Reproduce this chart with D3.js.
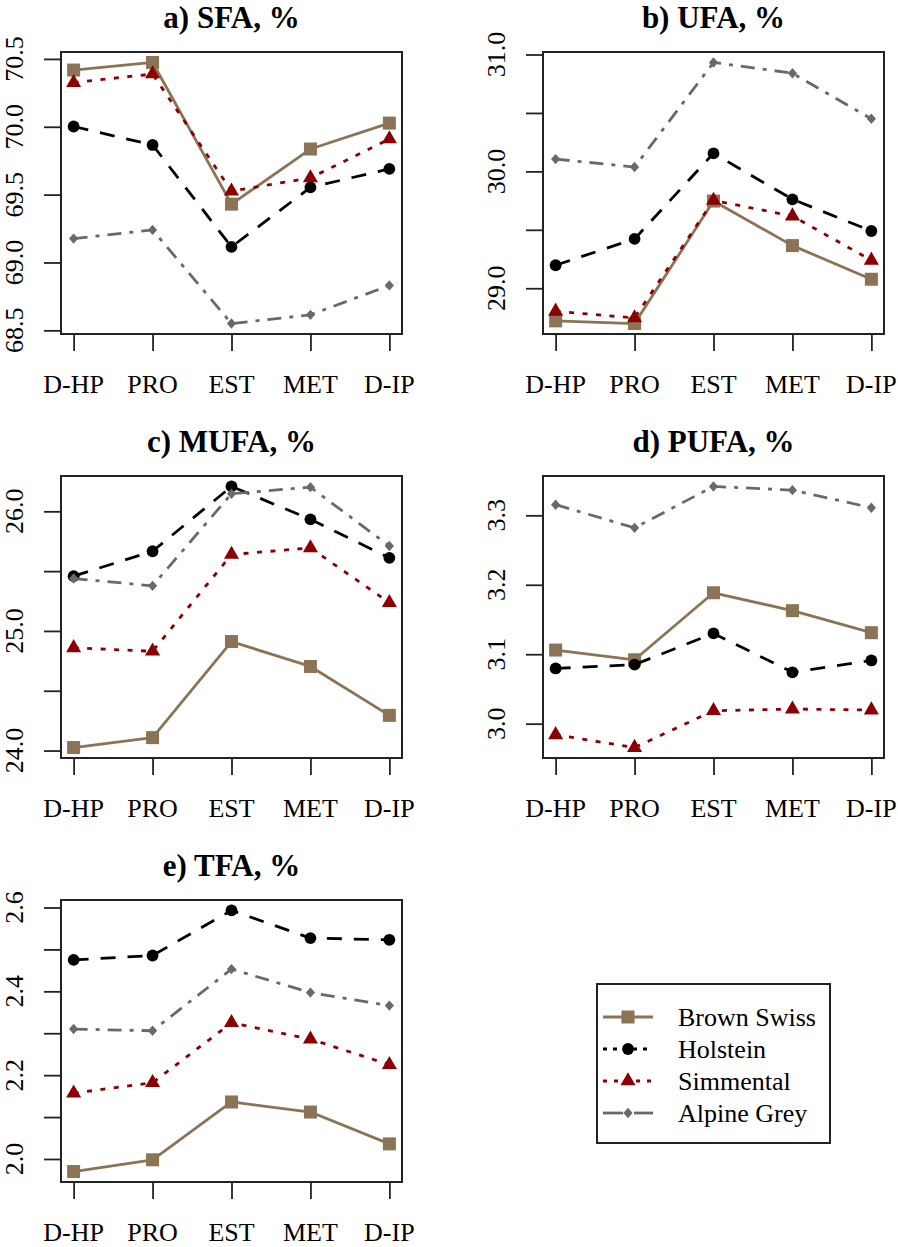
<!DOCTYPE html>
<html>
<head>
<meta charset="utf-8">
<script src="https://cdn.jsdelivr.net/npm/d3@7/dist/d3.min.js"></script>
<style>
  html, body { margin: 0; padding: 0; background: #fff; }
  svg { display: block; }
</style>
</head>
<body>
<svg id="chart" width="898" height="1247"></svg>
<script>
// ---------------- data ----------------
const categories = ["D-HP", "PRO", "EST", "MET", "D-IP"];
const breeds = ["Brown Swiss", "Holstein", "Simmental", "Alpine Grey"];

// rows: Brown Swiss, Holstein, Simmental, Alpine Grey
const SFA = [
  [70.418, 70.474, 69.430, 69.836, 70.027],
  [70.002, 69.866, 69.115, 69.553, 69.690],
  [70.325, 70.389, 69.526, 69.623, 69.910],
  [69.176, 69.240, 68.550, 68.614, 68.831]
];
const UFA = [
  [28.721, 28.698, 29.746, 29.365, 29.077],
  [29.197, 29.422, 30.154, 29.761, 29.490],
  [28.803, 28.746, 29.752, 29.618, 29.239],
  [30.105, 30.037, 30.932, 30.840, 30.450]
];
const MUFA = [
  [24.025, 24.108, 24.911, 24.703, 24.294],
  [25.458, 25.666, 26.208, 25.933, 25.611],
  [24.859, 24.830, 25.639, 25.694, 25.236],
  [25.438, 25.377, 26.147, 26.202, 25.710]
];
const PUFA = [
  [3.106, 3.092, 3.1885, 3.1627, 3.131],
  [3.0795, 3.085, 3.130, 3.074, 3.091],
  [2.984, 2.9656, 3.0186, 3.021, 3.0196],
  [3.3153, 3.282, 3.3416, 3.3363, 3.311]
];
const TFA = [
  [1.970, 1.998, 2.136, 2.112, 2.036],
  [2.475, 2.4855, 2.593, 2.527, 2.523],
  [2.157, 2.182, 2.325, 2.286, 2.225],
  [2.310, 2.306, 2.453, 2.397, 2.366]
];

const titles = ["a) SFA, %", "b) UFA, %", "c) MUFA, %", "d) PUFA, %", "e) TFA, %"];

const ticksSFA = [68.5, 69.0, 69.5, 70.0, 70.5];
const labelsSFA = [68.5, 69.0, 69.5, 70.0, 70.5];
const ticksUFA = [29.0, 29.5, 30.0, 30.5, 31.0];
const labelsUFA = [29.0, 30.0, 31.0];
const ticksMUFA = [24.0, 24.5, 25.0, 25.5, 26.0];
const labelsMUFA = [24.0, 25.0, 26.0];
const ticksPUFA = [3.0, 3.1, 3.2, 3.3];
const labelsPUFA = [3.0, 3.1, 3.2, 3.3];
const ticksTFA = [2.0, 2.1, 2.2, 2.3, 2.4, 2.5, 2.6];
const labelsTFA = [2.0, 2.2, 2.4, 2.6];

// ---------------- styles ----------------
const FONT = "Liberation Serif";
const colors = ["#8B7355", "#000000", "#8B0000", "#696969"];
const dashes = [null, "15,12", "5,8.5", "14,8,4,8"];
const shapes = ["square", "circle", "triangle", "diamond"];

const panels = [
  { title: titles[0], data: SFA, ticks: ticksSFA, labels: labelsSFA, col: 0, row: 0 },
  { title: titles[1], data: UFA, ticks: ticksUFA, labels: labelsUFA, col: 1, row: 0 },
  { title: titles[2], data: MUFA, ticks: ticksMUFA, labels: labelsMUFA, col: 0, row: 1 },
  { title: titles[3], data: PUFA, ticks: ticksPUFA, labels: labelsPUFA, col: 1, row: 1 },
  { title: titles[4], data: TFA, ticks: ticksTFA, labels: labelsTFA, col: 0, row: 2 }
];

const colLeft = [61, 543];
const rowTop = [52, 476, 900];
const W = 341, H = 282;
const TICK = 17;

const svg = d3.select("#chart");
const fmt = d3.format(".1f");

function symbolPath(shape) {
  if (shape === "square") return "M-6.5,-6.5H6.5V6.5H-6.5Z";
  if (shape === "circle") return d3.symbol(d3.symbolCircle, Math.PI * 5.9 * 5.9)();
  if (shape === "triangle") { const r = 8.7, xc = r * Math.sqrt(3) / 2; return `M0,${-r}L${xc},${r/2}L${-xc},${r/2}Z`; }
  if (shape === "diamond") return "M0,-5.2L4.6,0L0,5.2L-4.6,0Z";
}

function txt(sel) {
  return sel.style("font-family", FONT).attr("fill", "#000");
}

panels.forEach(p => {
  const x0 = colLeft[p.col], y0 = rowTop[p.row];
  const g = svg.append("g").attr("transform", `translate(${x0},${y0})`);

  const all = p.data.flat();
  const [mn, mx] = d3.extent(all);
  const pad = (mx - mn) * 0.04;

  // R-style 4% axis expansion: 0.16 step of padding each side
  const x = d3.scalePoint().domain(categories).range([0, W]).padding(0.16);
  const y = d3.scaleLinear().domain([mn - pad, mx + pad]).range([H, 0]);

  // title
  txt(g.append("text"))
    .attr("x", W / 2).attr("y", -24)
    .attr("text-anchor", "middle")
    .style("font-size", "31px").style("font-weight", "bold")
    .text(p.title);

  // y axis ticks
  const yAxis = d3.axisLeft(y).tickValues(p.ticks).tickSize(TICK).tickFormat("");
  const ya = g.append("g").call(yAxis);
  ya.select(".domain").remove();
  ya.selectAll(".tick line").attr("stroke", "#222").attr("stroke-width", 1.8);

  // y labels (rotated)
  txt(g.selectAll(".ylab").data(p.labels).enter().append("text"))
    .attr("class", "ylab")
    .attr("transform", d => `translate(${-38},${y(d)}) rotate(-90)`)
    .attr("text-anchor", "middle")
    .style("font-size", "26px")
    .text(d => fmt(d));

  // x axis
  const xAxis = d3.axisBottom(x).tickSize(TICK).tickPadding(0).tickFormat("");
  const xa = g.append("g").attr("transform", `translate(0,${H})`).call(xAxis);
  xa.select(".domain").remove();
  xa.selectAll(".tick line").attr("stroke", "#222").attr("stroke-width", 1.8);
  txt(g.selectAll(".xlab").data(categories).enter().append("text"))
    .attr("class", "xlab")
    .attr("x", d => x(d)).attr("y", H + 58.5)
    .attr("text-anchor", "middle")
    .style("font-size", "26px")
    .text(d => d);

  // series
  const line = d3.line().x((d, i) => x(categories[i])).y(d => y(d));
  p.data.forEach((vals, s) => {
    g.append("path")
      .attr("d", line(vals))
      .attr("fill", "none")
      .attr("stroke", colors[s])
      .attr("stroke-width", 2.8)
      .attr("stroke-dasharray", dashes[s])
      .attr("stroke-linejoin", "round");
    g.selectAll(null).data(vals).enter().append("path")
      .attr("transform", (d, i) => `translate(${x(categories[i])},${y(d)})`)
      .attr("d", symbolPath(shapes[s]))
      .attr("fill", colors[s]);
  });

  // box
  g.append("rect").attr("x", 0).attr("y", 0).attr("width", W).attr("height", H)
    .attr("fill", "none").attr("stroke", "#222").attr("stroke-width", 2);
});

// ---------------- legend ----------------
const lg = svg.append("g").attr("transform", "translate(597,984)");
lg.append("rect").attr("x", 0).attr("y", 0).attr("width", 233).attr("height", 159)
  .attr("fill", "#fff").attr("stroke", "#222").attr("stroke-width", 2);
const legDash = [null, "4,6", "4,7", null];
breeds.forEach((b, i) => {
  const cy = 33 + i * 32;
  const row = lg.append("g").attr("transform", `translate(0,${cy})`);
  if (i === 3) {
    row.append("line").attr("x1", 6).attr("x2", 26).attr("y1", 0).attr("y2", 0)
      .attr("stroke", colors[i]).attr("stroke-width", 2.8);
    row.append("line").attr("x1", 37).attr("x2", 56).attr("y1", 0).attr("y2", 0)
      .attr("stroke", colors[i]).attr("stroke-width", 2.8);
  } else {
    row.append("line").attr("x1", 6).attr("x2", 56).attr("y1", 0).attr("y2", 0)
      .attr("stroke", colors[i]).attr("stroke-width", 2.8)
      .attr("stroke-dasharray", legDash[i]);
  }
  row.append("path").attr("transform", "translate(31,0)")
    .attr("d", symbolPath(shapes[i])).attr("fill", colors[i]);
  txt(row.append("text")).attr("x", 81).attr("y", 9)
    .style("font-size", "26px").text(b);
});
</script>
</body>
</html>
